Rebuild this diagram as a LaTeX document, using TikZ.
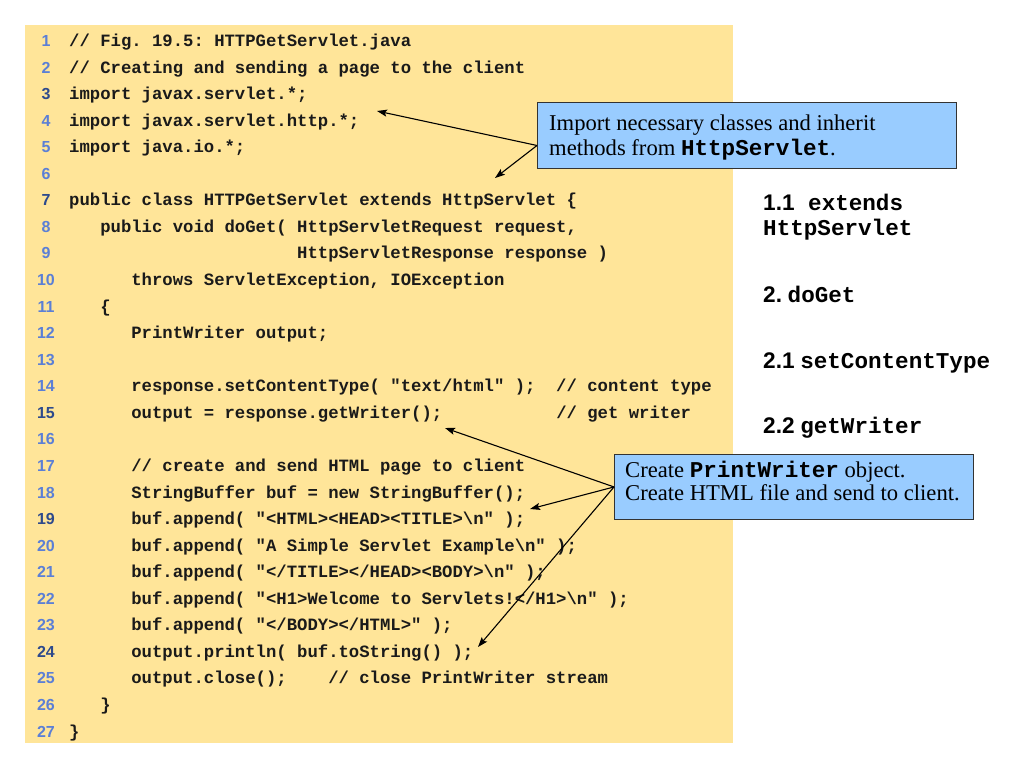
\documentclass[tikz,border=0pt]{standalone}
\usepackage{fontspec}
\setmainfont{Liberation Serif}
\newfontfamily\codefont{Liberation Mono}[Ligatures=TeXOff]
\newfontfamily\labfont{Liberation Sans}
\usetikzlibrary{arrows.meta,calc}
\definecolor{codebg}{HTML}{FFE599}
\definecolor{callbg}{HTML}{99CCFF}
\definecolor{lnumc}{HTML}{5B7FD6}
\definecolor{lnumhi}{HTML}{2E4A8C}
\definecolor{codetxt}{HTML}{1A1A1A}
\newcommand\SP[1]{\hspace*{#1\dimexpr 0.6em\relax}}
\newcommand\myBS{\textbackslash}
\tikzset{
  numstyle/.style={anchor=base, inner sep=0pt, font=\labfont\bfseries\fontsize{16}{16}\selectfont},
  codestyle/.style={anchor=base west, inner sep=0pt, text=codetxt, font=\codefont\bfseries\fontsize{17.27}{17.27}\selectfont\frenchspacing},
  lab/.style={anchor=base west, inner sep=0pt, text=black, font=\fontsize{22.6}{22.6}\selectfont\frenchspacing},
  callout/.style={draw=black!80, line width=0.9pt, fill=callbg, inner sep=0pt, anchor=north west},
  calltxt/.style={anchor=base west, inner sep=0pt, text=black, font=\fontsize{22.6}{22.6}\selectfont},
  arr/.style={-{Stealth[length=10pt,width=7pt,inset=2pt]}, line width=1.1pt, black},
}
\newcommand\mylno[2]{\node[numstyle, text=#2] (n#1) at (46,{46.5+(#1-1)*26.56}) {#1};}
\newcommand\mycl[2]{\node[codestyle] (c#1) at (69,{46.5+(#1-1)*26.56}) {#2};}
\newcommand\mymono{\codefont\bfseries}
\newcommand\mysans{\labfont\bfseries}
\begin{document}
\begin{tikzpicture}[x=1pt,y=-1pt]
\useasboundingbox (0,0) rectangle (1024,768);
\node[fill=codebg, minimum width=708pt, minimum height=718pt, anchor=north west, inner sep=0pt] (panel) at (25,25) {};
% line numbers
\mylno{1}{lnumc}\mylno{2}{lnumc}\mylno{3}{lnumhi}\mylno{4}{lnumc}\mylno{5}{lnumc}\mylno{6}{lnumc}
\mylno{7}{lnumhi}\mylno{8}{lnumc}\mylno{9}{lnumc}\mylno{10}{lnumc}\mylno{11}{lnumc}\mylno{12}{lnumc}
\mylno{13}{lnumc}\mylno{14}{lnumc}\mylno{15}{lnumhi}\mylno{16}{lnumc}\mylno{17}{lnumc}\mylno{18}{lnumc}
\mylno{19}{lnumhi}\mylno{20}{lnumc}\mylno{21}{lnumc}\mylno{22}{lnumc}\mylno{23}{lnumc}\mylno{24}{lnumhi}
\mylno{25}{lnumc}\mylno{26}{lnumc}\mylno{27}{lnumc}
% code
\mycl{1}{// Fig. 19.5: HTTPGetServlet.java}
\mycl{2}{// Creating and sending a page to the client}
\mycl{3}{import javax.servlet.*;}
\mycl{4}{import javax.servlet.http.*;}
\mycl{5}{import java.io.*;}
\mycl{7}{public class HTTPGetServlet extends HttpServlet \{}
\mycl{8}{\SP{3}public void doGet( HttpServletRequest request,}
\mycl{9}{\SP{22}HttpServletResponse response )}
\mycl{10}{\SP{6}throws ServletException, IOException}
\mycl{11}{\SP{3}\{}
\mycl{12}{\SP{6}PrintWriter output;}
\mycl{14}{\SP{6}response.setContentType( "text/html" );\SP{2}// content type}
\mycl{15}{\SP{6}output = response.getWriter();\SP{11}// get writer}
\mycl{17}{\SP{6}// create and send HTML page to client}
\mycl{18}{\SP{6}StringBuffer buf = new StringBuffer();}
\mycl{19}{\SP{6}buf.append( "<HTML><HEAD><TITLE>\myBS n" );}
\mycl{20}{\SP{6}buf.append( "A Simple Servlet Example\myBS n" );}
\mycl{21}{\SP{6}buf.append( "</TITLE></HEAD><BODY>\myBS n" );}
\mycl{22}{\SP{6}buf.append( "<H1>Welcome to Servlets!</H1>\myBS n" );}
\mycl{23}{\SP{6}buf.append( "</BODY></HTML>" );}
\mycl{24}{\SP{6}output.println( buf.toString() );}
\mycl{25}{\SP{6}output.close();\SP{4}// close PrintWriter stream}
\mycl{26}{\SP{3}\}}
\mycl{27}{\}}
% right labels
\node[lab] (r1) at (763,210) {{\mysans 1.1}\mymono\ extends};
\node[lab] (r2) at (763,235) {\mymono HttpServlet};
\node[lab] (r3) at (763,302) {{\mysans 2.} {\mymono doGet}};
\node[lab] (r4) at (763,368) {{\mysans 2.1} {\mymono setContentType}};
\node[lab] (r5) at (763,433) {{\mysans 2.2} {\mymono getWriter}};
% callouts
\node[callout, minimum width=419pt, minimum height=66pt] (b1) at (537,102) {};
\node[calltxt] (b1t1) at (549,130) {Import necessary classes and inherit};
\node[calltxt] (b1t2) at (549,155) {methods from {\mymono HttpServlet}.};
\node[callout, minimum width=359pt, minimum height=65pt] (b2) at (614,454) {};
\node[calltxt] (b2t1) at (625,477) {Create {\mymono PrintWriter} object.};
\node[calltxt] (b2t2) at (625,500) {Create HTML file and send to client.};
% arrow ends
\coordinate (b1o) at ($(b1.south west)!0.35!(b1.north west)$);
\coordinate (t1) at (377,111);
\coordinate (t2) at (495,178);
\coordinate (t3) at (445,428);
\coordinate (t4) at (530,509);
\coordinate (t5) at (478,647);
\draw[arr] (b1o) -- (t1);
\draw[arr] (b1o) -- (t2);
\draw[arr] (b2.west) -- (t3);
\draw[arr] (b2.west) -- (t4);
\draw[arr] (b2.west) -- (t5);
\end{tikzpicture}
\end{document}
